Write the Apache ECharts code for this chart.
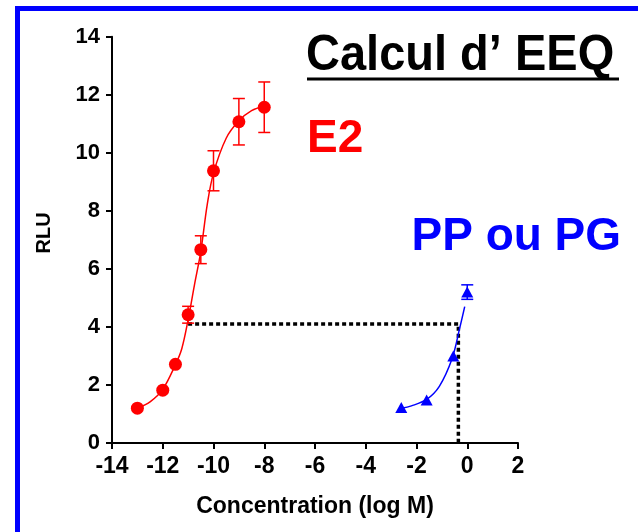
<!DOCTYPE html>
<html>
<head>
<meta charset="utf-8">
<script src="https://cdn.jsdelivr.net/npm/echarts@6/dist/echarts.min.js"></script>
<style>html,body{margin:0;padding:0;background:#fff;}#chart{width:638px;height:532px;}</style>
</head>
<body>
<div id="chart"></div>
<script>
// E2 measured points
var e2X = [-13, -12, -11.5, -11, -10.5, -10, -9, -8];
var e2Y = [1.2, 1.82, 2.71, 4.42, 6.66, 9.38, 11.07, 11.57];
var e2Err = [0, 0, 0, 0.29, 0.48, 0.69, 0.8, 0.87];
// E2 fitted curve
var e2CurveX = [-13, -12.5, -12, -11.5, -11.25, -11, -10.75, -10.5, -10.25, -10, -9.5, -9, -8.5, -8];
var e2CurveY = [1.2, 1.42, 1.85, 2.7, 3.25, 4.25, 5.45, 6.6, 8.2, 9.3, 10.5, 11.1, 11.45, 11.6];
// PP / PG measured points
var ppX = [-2.6, -1.6, -0.55, 0];
var ppY = [1.22, 1.48, 3.0, 5.2];
var ppErr = [0, 0, 0, 0.25];
// PP / PG fitted curve
var ppCurveX = [-2.6, -2.2, -1.6, -1.1, -0.6, -0.3, -0.1];
var ppCurveY = [1.2, 1.28, 1.5, 1.95, 2.9, 3.95, 4.7];
// EEQ reading lines
var readX = [-11.0, -0.35, -0.35];
var readY = [4.1, 4.1, 0];
// axes
var xMin = -14, xMax = 2, xStep = 2;
var yMin = 0, yMax = 14, yStep = 2;

function zip(a, b) { return a.map(function (v, i) { return [v, b[i]]; }); }
function errData(xs, ys, es) {
  var out = [];
  xs.forEach(function (x, i) { if (es[i] > 0) out.push([x, ys[i] - es[i], ys[i] + es[i]]); });
  return out;
}
function errRender(color) {
  return function (params, api) {
    var x = api.value(0);
    var lo = api.coord([x, api.value(1)]);
    var hi = api.coord([x, api.value(2)]);
    var hw = 6;
    var st = { stroke: color, lineWidth: 1.5 };
    return {
      type: 'group',
      children: [
        { type: 'line', shape: { x1: lo[0], y1: lo[1], x2: hi[0], y2: hi[1] }, style: st },
        { type: 'line', shape: { x1: lo[0] - hw, y1: lo[1], x2: lo[0] + hw, y2: lo[1] }, style: st },
        { type: 'line', shape: { x1: hi[0] - hw, y1: hi[1], x2: hi[0] + hw, y2: hi[1] }, style: st }
      ]
    };
  };
}

var FONT = "'Liberation Sans', Arial, sans-serif";
var chart = echarts.init(document.getElementById('chart'), null, { renderer: 'canvas' });
chart.setOption({
  animation: false,
  backgroundColor: '#fff',
  grid: { left: 112, right: 120, top: 36.7, bottom: 89, containLabel: false },
  xAxis: {
    type: 'value', min: xMin, max: xMax, interval: xStep,
    name: 'Concentration (log M)', nameLocation: 'middle', nameGap: 52,
    nameTextStyle: { fontFamily: FONT, fontWeight: 'bold', fontSize: 23, color: '#000' },
    axisLine: { show: true, onZero: false, lineStyle: { color: '#000', width: 2 } },
    axisTick: { show: true, length: 6, lineStyle: { color: '#000', width: 2 } },
    axisLabel: { fontFamily: FONT, fontWeight: 'bold', fontSize: 23, color: '#000', margin: 12 },
    splitLine: { show: false }
  },
  yAxis: {
    type: 'value', min: yMin, max: yMax, interval: yStep,
    name: 'RLU', nameLocation: 'middle', nameGap: 58, nameRotate: 90,
    nameTextStyle: { fontFamily: FONT, fontWeight: 'bold', fontSize: 20, color: '#000', padding: [0, 0, 0, 14] },
    axisLine: { show: true, onZero: false, lineStyle: { color: '#000', width: 2 } },
    axisTick: { show: true, length: 6, lineStyle: { color: '#000', width: 2 } },
    axisLabel: { fontFamily: FONT, fontWeight: 'bold', fontSize: 22, color: '#000', margin: 12 },
    splitLine: { show: false }
  },
  graphic: [
    { type: 'rect', shape: { x: 17.5, y: 8.5, width: 800, height: 700 }, style: { fill: 'none', stroke: '#0000FF', lineWidth: 5 }, z: 100 },
    { type: 'text', x: 306, y: 56.5, scaleY: 1.07, style: { text: 'Calcul d\u2019 EEQ', font: 'bold 47px ' + FONT, fill: '#000', textVerticalAlign: 'middle', textAlign: 'left' }, z: 100 },
    { type: 'line', shape: { x1: 307, y1: 79, x2: 619, y2: 79 }, style: { stroke: '#000', lineWidth: 3 }, z: 100 },
    { type: 'text', x: 307, y: 139, style: { text: 'E2', font: 'bold 46px ' + FONT, fill: '#FF0000', textVerticalAlign: 'middle', textAlign: 'left' }, z: 100 },
    { type: 'text', x: 411.5, y: 237.4, style: { text: 'PP ou PG', font: 'bold 46px ' + FONT, fill: '#0000FF', textVerticalAlign: 'middle', textAlign: 'left' }, z: 100 }
  ],
  series: [
    { type: 'line', data: zip(readX, readY), symbol: 'none', lineStyle: { color: '#000', width: 3.5, type: [4, 3] }, z: 1 },
    { type: 'line', data: zip(e2CurveX, e2CurveY), smooth: 0.35, symbol: 'none', lineStyle: { color: '#FF0000', width: 1.5 }, z: 2 },
    { type: 'line', data: zip(ppCurveX, ppCurveY), smooth: 0.35, symbol: 'none', lineStyle: { color: '#0000FF', width: 1.5 }, z: 2 },
    { type: 'custom', data: errData(e2X, e2Y, e2Err), renderItem: errRender('#FF0000'), z: 3 },
    { type: 'custom', data: errData(ppX, ppY, ppErr), renderItem: errRender('#0000FF'), z: 3 },
    { type: 'scatter', data: zip(e2X, e2Y), symbol: 'circle', symbolSize: 13, itemStyle: { color: '#FF0000', opacity: 1 }, z: 4 },
    { type: 'scatter', data: zip(ppX, ppY), symbol: 'triangle', symbolSize: [12, 11], itemStyle: { color: '#0000FF', opacity: 1 }, z: 4 }
  ]
});
</script>
</body>
</html>
